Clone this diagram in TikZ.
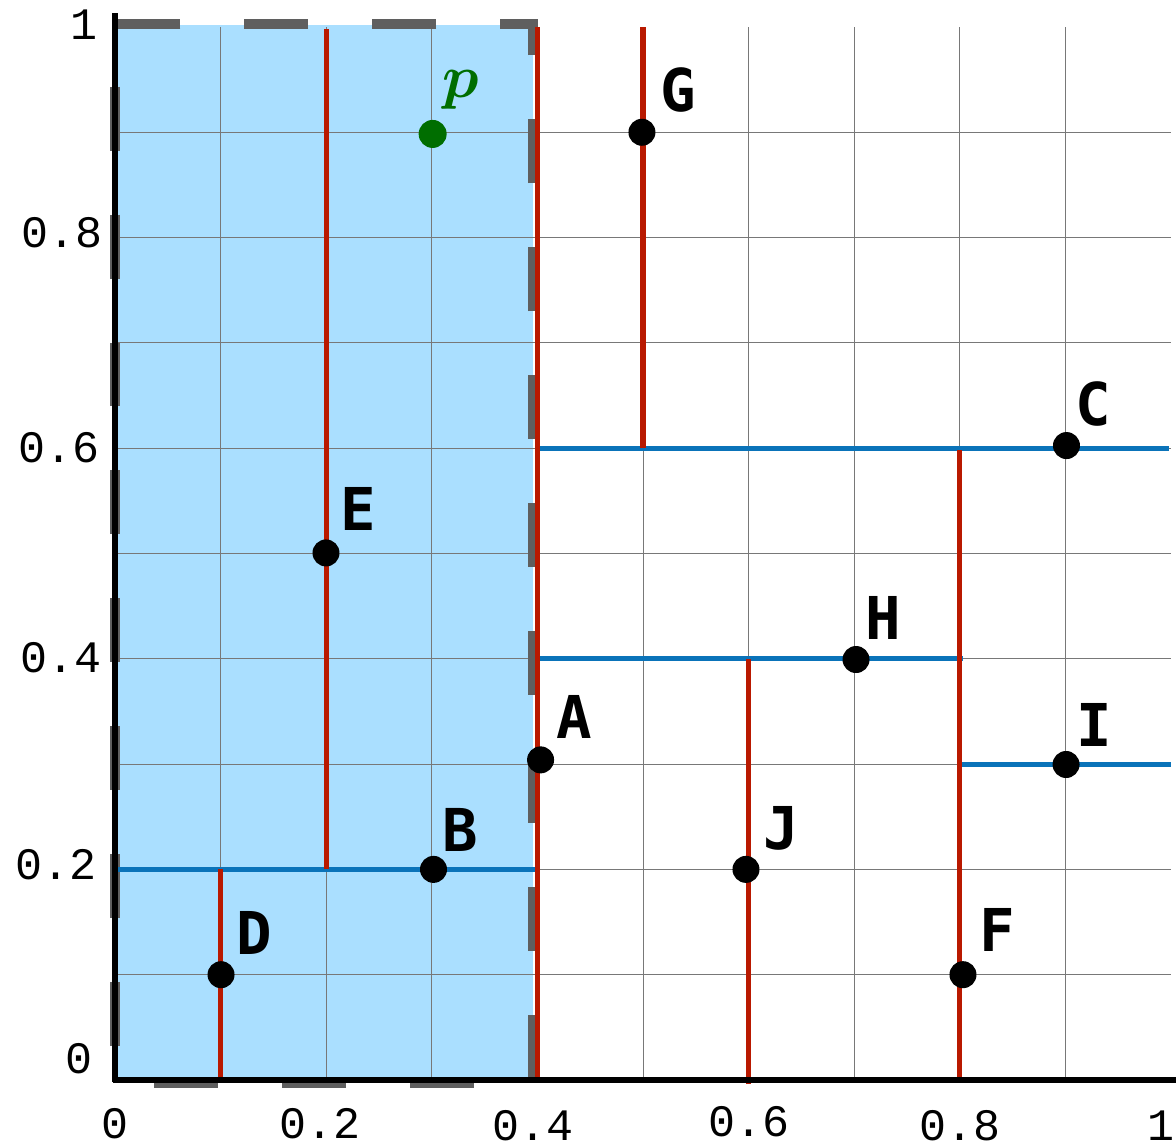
\documentclass[tikz,border=0pt]{standalone}
\usepackage{fontspec}
\usepackage{amsmath,bm}
\newfontfamily\monofont{DejaVu Sans Mono}
\newfontfamily\tickfont{Liberation Mono}
\definecolor{regionfill}{RGB}{170,223,255}
\definecolor{splitred}{RGB}{185,25,0}
\definecolor{splitblue}{RGB}{10,115,185}
\definecolor{dashgray}{RGB}{95,95,95}
\definecolor{gridgray}{RGB}{120,120,120}
\definecolor{pgreen}{RGB}{0,110,0}
\tikzset{
  gridline/.style={draw=gridgray, line width=0.3pt},
  axisline/.style={draw=black, line width=1.45pt},
  redline/.style={draw=splitred, line width=1.45pt},
  blueline/.style={draw=splitblue, line width=1.45pt},
  dashrect/.style={draw=dashgray, line width=2.85pt, dash pattern=on 18.2pt off 18.2pt, dash phase=25.3pt},
  pt/.style={circle, fill=black, inner sep=0pt, minimum size=0.27cm},
  ppt/.style={circle, fill=pgreen, inner sep=0pt, minimum size=0.28cm},
  ptlabel/.style={inner sep=0pt, font=\monofont\bfseries\fontsize{16.8}{18}\selectfont},
  ticklab/.style={inner sep=0pt, font=\tickfont\fontsize{12.8}{14}\selectfont},
}
\begin{document}
\begin{tikzpicture}[x=10.56cm, y=10.53cm]
\useasboundingbox (-0.1089,-0.05793) rectangle (1.00473,1.02564);
% shaded region
\fill[regionfill] (0,-0.002) rectangle (0.396,1.002);
% grid
\draw[gridline] (0,0) grid[step=0.1] (1,1);
% dashed border of region
\draw[dashrect] (0,-0.0033) -- (0.3958,-0.0033) -- (0.3958,1.0028) -- (0,1.0028) -- cycle;
% blue splits
\draw[blueline] (0,0.2) -- (0.4025,0.2);
\draw[blueline] (0.402,0.6) -- (0.998,0.6);
\draw[blueline] (0.402,0.4) -- (0.803,0.4);
\draw[blueline] (0.8,0.3) -- (1.0,0.3);
% red splits
\draw[redline] (0.4,0) -- (0.4,1.0);
\draw[redline] (0.2,0.2) -- (0.2,0.998);
\draw[redline] (0.1,0) -- (0.1,0.2);
\draw[redline] (0.5,0.6) -- (0.5,1.0);
\draw[redline] (0.6,-0.004) -- (0.6,0.4);
\draw[redline] (0.8,0) -- (0.8,0.598);
% axes
\draw[axisline] (-0.002,0) -- (1.005,0);
\draw[axisline] (0,-0.002) -- (0,1.0133);
% tick labels x
\node[ticklab] (x0) at (0,-0.0415) {0};
\node[ticklab] (x2) at (0.1937,-0.0415) {0.2};
\node[ticklab] (x4) at (0.3958,-0.0432) {0.4};
\node[ticklab] (x6) at (0.6004,-0.0395) {0.6};
\node[ticklab] (x8) at (0.8002,-0.0432) {0.8};
\node[ticklab] (x10) at (0.9905,-0.0432) {1};
% tick labels y
\node[ticklab, anchor=east] (y10) at (-0.016,1.0022) {1};
\node[ticklab, anchor=east] (y8) at (-0.0114,0.8049) {0.8};
\node[ticklab, anchor=east] (y6) at (-0.0142,0.6002) {0.6};
\node[ticklab, anchor=east] (y4) at (-0.0124,0.4012) {0.4};
\node[ticklab, anchor=east] (y2) at (-0.0171,0.2042) {0.2};
\node[ticklab, anchor=east] (y0) at (-0.0209,0.0204) {0};
% points
\node[pt] (A) at (0.403,0.304) {};
\node[pt] (B) at (0.3016,0.2) {};
\node[pt] (C) at (0.901,0.6025) {};
\node[pt] (D) at (0.1004,0.1) {};
\node[pt] (E) at (0.1998,0.5005) {};
\node[pt] (F) at (0.803,0.1) {};
\node[pt] (G) at (0.499,0.9) {};
\node[pt] (H) at (0.7017,0.3993) {};
\node[pt] (I) at (0.9006,0.2996) {};
\node[pt] (J) at (0.5975,0.2) {};
\node[ppt] (P) at (0.3008,0.8984) {};
% point labels
\node[ptlabel] (lA) at (0.4351,0.3452) {A};
\node[ptlabel] (lB) at (0.3267,0.2379) {B};
\node[ptlabel] (lC) at (0.9266,0.642) {C};
\node[ptlabel] (lD) at (0.1316,0.1396) {D};
\node[ptlabel] (lE) at (0.2301,0.5423) {E};
\node[ptlabel] (lF) at (0.8352,0.1425) {F};
\node[ptlabel] (lG) at (0.5331,0.9402) {G};
\node[ptlabel] (lH) at (0.7278,0.4392) {H};
\node[ptlabel] (lI) at (0.9271,0.3376) {I};
\node[ptlabel] (lJ) at (0.6307,0.2393) {J};
\node[inner sep=0pt, text=pgreen, font=\fontsize{18}{20}\selectfont] (lP) at (0.3277,0.9402) {$\boldsymbol{p}$};
\end{tikzpicture}
\end{document}
